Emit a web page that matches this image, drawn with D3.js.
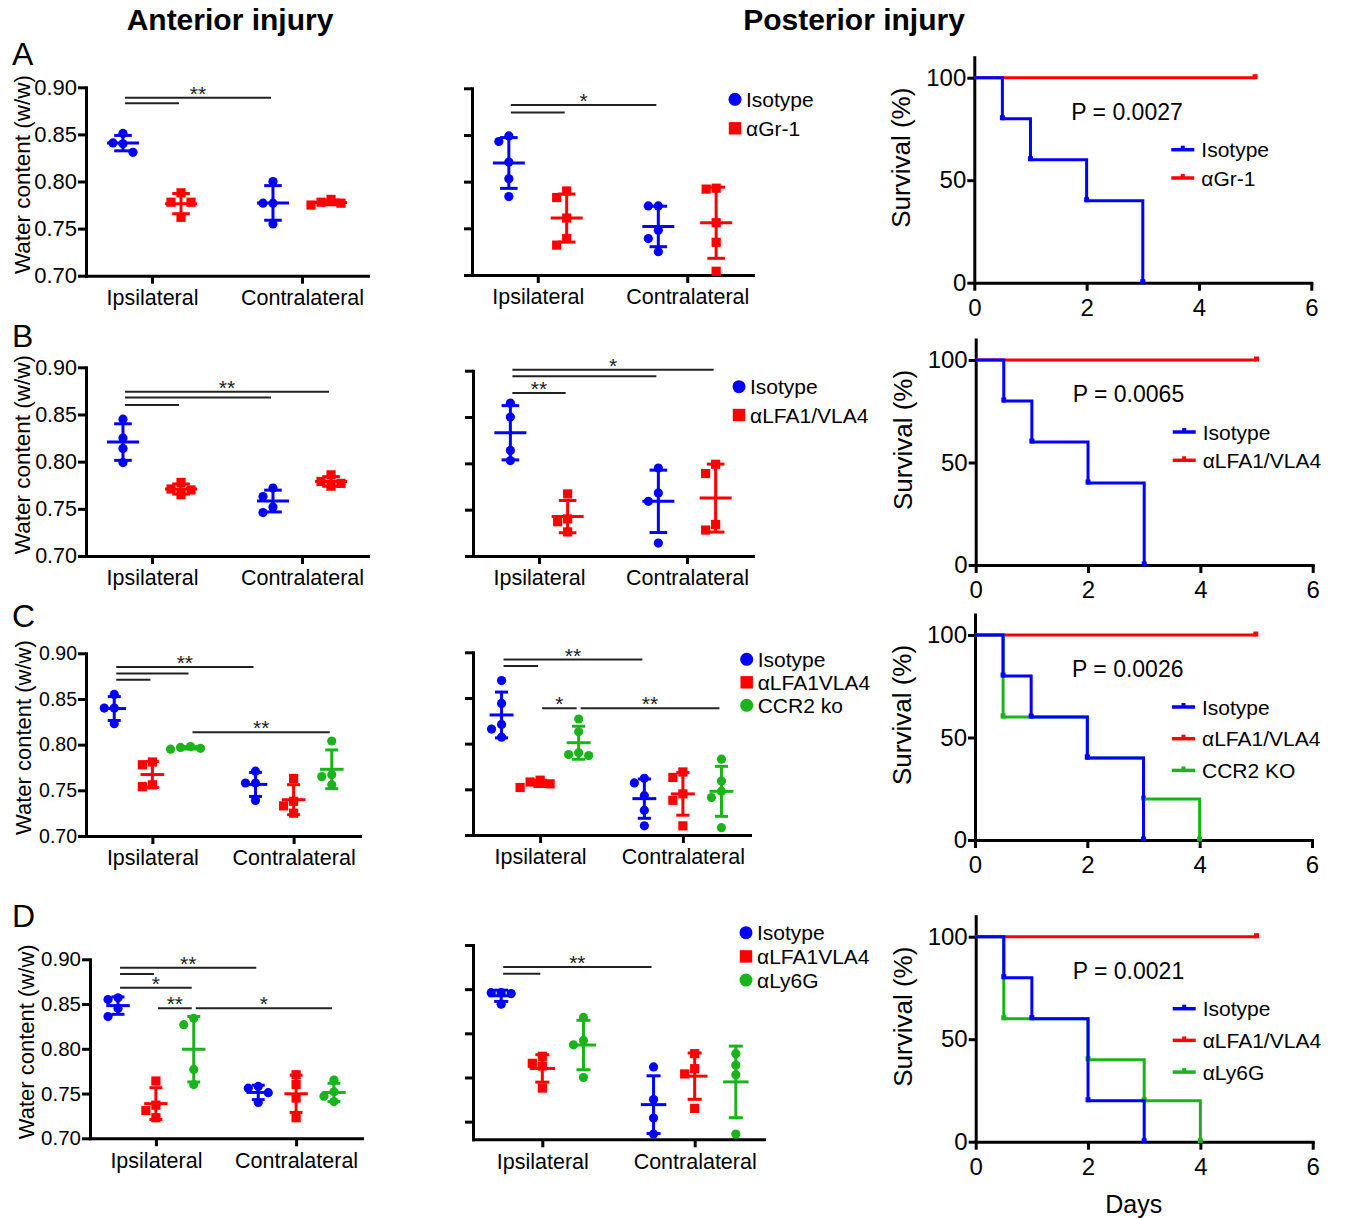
<!DOCTYPE html>
<html>
<head>
<meta charset="utf-8">
<script src="https://cdn.jsdelivr.net/npm/d3@7"></script>
<style>
  html, body { margin: 0; padding: 0; background: #fff; }
  svg { display: block; font-family: "Liberation Sans", Arial, Helvetica, sans-serif; }
</style>
</head>
<body>
<svg id="fig" width="1346" height="1218"></svg>
<script>
// ---- data ----
const groups = ['Ipsilateral', 'Contralateral'];
const waterTicks = [0.70, 0.75, 0.80, 0.85, 0.90];
const survTicksX = [0, 2, 4, 6];
const survTicksY = [0, 50, 100];

// each series: [ipsilateral values, contralateral values]
const antA_Isotype = [[0.851, 0.841, 0.840, 0.831], [0.800, 0.777, 0.777, 0.755]];
const antA_Gr1 = [[0.788, 0.778, 0.778, 0.762], [0.781, 0.778, 0.777, 0.775]];
const postA_Isotype = [[0.849, 0.843, 0.821, 0.803, 0.784], [0.774, 0.774, 0.748, 0.739, 0.725]];
const postA_Gr1 = [[0.790, 0.783, 0.761, 0.739, 0.732], [0.793, 0.792, 0.756, 0.735, 0.704]];

const antB_Isotype = [[0.845, 0.825, 0.814, 0.799], [0.772, 0.763, 0.752, 0.746]];
const antB_LFA = [[0.778, 0.771, 0.770, 0.765], [0.786, 0.779, 0.777, 0.774]];
const postB_Isotype = [[0.865, 0.850, 0.814, 0.803], [0.795, 0.768, 0.759, 0.714]];
const postB_LFA = [[0.767, 0.740, 0.737, 0.726], [0.799, 0.789, 0.734, 0.728]];

const antC_Isotype = [[0.855, 0.840, 0.840, 0.823], [0.771, 0.758, 0.758, 0.739]];
const antC_LFA = [[0.781, 0.778, 0.756, 0.754], [0.763, 0.738, 0.733, 0.725]];
const antC_CCR2 = [[0.798, 0.797, 0.796, 0.795], [0.804, 0.767, 0.765, 0.756]];
const postC_Isotype = [[0.869, 0.844, 0.821, 0.816, 0.807], [0.762, 0.757, 0.743, 0.727, 0.710]];
const postC_LFA = [[0.760, 0.758, 0.756, 0.752], [0.769, 0.763, 0.745, 0.738, 0.710]];
const postC_CCR2 = [[0.827, 0.813, 0.790, 0.788, 0.787], [0.783, 0.759, 0.748, 0.741, 0.708]];

const antD_Isotype = [[0.857, 0.855, 0.845, 0.836], [0.758, 0.756, 0.751, 0.740]];
const antD_LFA = [[0.764, 0.737, 0.731, 0.723], [0.771, 0.760, 0.745, 0.723]];
const antD_Ly6G = [[0.834, 0.827, 0.777, 0.760], [0.765, 0.752, 0.747, 0.741]];
const postD_Isotype = [[0.846, 0.846, 0.845, 0.833], [0.762, 0.725, 0.704, 0.686]];
const postD_LFA = [[0.774, 0.766, 0.763, 0.738], [0.777, 0.760, 0.754, 0.715]];
const postD_Ly6G = [[0.818, 0.792, 0.787, 0.750], [0.777, 0.764, 0.753, 0.686]];

// significance bars: [seriesA, groupA, seriesB, groupB, level, label]
const sigAntA = [[0, 0, 1, 0, 0.883, ''], [0, 0, 0, 1, 0.889, '**']];
const sigPostA = [[0, 0, 1, 0, 0.874, ''], [0, 0, 0, 1, 0.882, '*']];
const sigAntB = [[0, 0, 1, 0, 0.860, ''], [0, 0, 0, 1, 0.868, ''], [0, 0, 1, 1, 0.874, '**']];
const sigPostB = [[0, 0, 1, 0, 0.876, '**'], [0, 0, 0, 1, 0.894, ''], [0, 0, 1, 1, 0.901, '*']];
const sigAntC = [[0, 0, 1, 0, 0.871, ''], [0, 0, 2, 0, 0.878, ''], [0, 0, 0, 1, 0.885, '**'], [2, 0, 2, 1, 0.8135, '**']];
const sigPostC = [[0, 0, 1, 0, 0.885, ''], [0, 0, 0, 1, 0.892, '**'], [1, 0, 2, 0, 0.8387, '*'], [2, 0, 2, 1, 0.8387, '**']];
const sigAntD = [[0, 0, 1, 0, 0.8836, ''], [0, 0, 0, 1, 0.8906, '**'], [0, 0, 2, 0, 0.8683, '*'], [1, 0, 2, 0, 0.8453, '**'], [2, 0, 2, 1, 0.8453, '*']];
const sigPostD = [[0, 0, 1, 0, 0.8675, ''], [0, 0, 0, 1, 0.875, '**']];

// survival curves: [day, percent]
const survA_Isotype = [[0, 100], [0.5, 80], [1, 60], [2, 40], [3, 0]];
const survA_Gr1 = [[0, 100], [5, 100]];
const survB_Isotype = [[0, 100], [0.5, 80], [1, 60], [2, 40], [3, 0]];
const survB_LFA = [[0, 100], [5, 100]];
const survC_Isotype = [[0, 100], [0.5, 80], [1, 60], [2, 40], [3, 0]];
const survC_LFA = [[0, 100], [5, 100]];
const survC_CCR2 = [[0, 100], [0.5, 60], [2, 40], [3, 20], [4, 0]];
const survD_Isotype = [[0, 100], [0.5, 80], [1, 60], [2, 20], [3, 0]];
const survD_LFA = [[0, 100], [5, 100]];
const survD_Ly6G = [[0, 100], [0.5, 60], [2, 40], [3, 20], [4, 0]];
const pValues = ['P = 0.0027', 'P = 0.0065', 'P = 0.0026', 'P = 0.0021'];

// ---- drawing ----
const blue = '#0000ff', red = '#ff0000', green = '#1bb31b';
const svg = d3.select('#fig');

function styleAxis(sel, fontSize) {
  sel.select('.domain').attr('stroke', '#000').attr('stroke-width', 3).attr('stroke-linecap', 'square');
  sel.selectAll('.tick line').attr('stroke', '#000').attr('stroke-width', 3);
  sel.selectAll('.tick text').attr('fill', '#000').style('font-size', fontSize + 'px');
  sel.attr('font-family', null).attr('font-size', null);
}

// simple beeswarm so overlapping points sit side by side
function swarm(vals, y, d) {
  const placed = [];
  const out = new Array(vals.length);
  vals.map((v, i) => i).sort((a, b) => vals[b] - vals[a]).forEach(i => {
    const py = y(vals[i]);
    const cands = [0, -d, d, -2 * d, 2 * d];
    let dx = cands.find(c => placed.every(p => Math.hypot(p[0] - c, p[1] - py) >= d * 0.95));
    if (dx === undefined) dx = 0;
    placed.push([dx, py]);
    out[i] = [dx, py];
  });
  return out;
}

function marker(g, shape, cx, cy, size, color) {
  if (shape === 'square') {
    g.append('rect').attr('x', cx - size).attr('y', cy - size).attr('width', size * 2).attr('height', size * 2).attr('fill', color);
  } else {
    g.append('circle').attr('cx', cx).attr('cy', cy).attr('r', size).attr('fill', color);
  }
}

function scatterPanel(cfg) {
  const g = svg.append('g');
  const x = d3.scalePoint().domain(groups).range([cfg.x0, cfg.x1]).padding(cfg.pad);
  const y = d3.scaleLinear().domain([cfg.yMin, 0.90]).range([cfg.yBot, cfg.yTop]);
  const n = cfg.series.length;
  const off = x.step() * (n === 2 ? 0.387 : 0.27);
  const sx = (s, gi) => x(groups[gi]) + (s - (n - 1) / 2) * off;
  const meanHalf = Math.min(16, off * 0.31);
  const capHalf = meanHalf * 0.55;

  // axes
  g.append('g').attr('transform', `translate(${cfg.x0},0)`)
    .call(d3.axisLeft(y).tickValues(waterTicks).tickSize(8).tickSizeOuter(0).tickPadding(1)
      .tickFormat(cfg.showY ? d3.format('.2f') : ''))
    .call(s => styleAxis(s, cfg.tickFont || 22));
  g.append('g').attr('transform', `translate(0,${cfg.yBot})`)
    .call(d3.axisBottom(x).tickSize(8).tickSizeOuter(0).tickPadding(6))
    .call(s => styleAxis(s, 21.5));

  if (cfg.showY) {
    g.append('text')
      .attr('transform', `translate(${cfg.titleX},${(cfg.yTop + cfg.yBot) / 2 - 7}) rotate(-90)`)
      .attr('text-anchor', 'middle').style('font-size', (cfg.titleFont || 22.5) + 'px')
      .text('Water content (w/w)');
  }

  // points + mean ± SD
  cfg.series.forEach((ser, s) => {
    ser.values.forEach((vals, gi) => {
      const cx = sx(s, gi);
      swarm(vals, y, 10).forEach(([dx, py]) => marker(g, ser.shape, cx + dx, py, 4.6, ser.color));
      const m = d3.mean(vals), sd = d3.deviation(vals);
      const eb = g.append('g').attr('stroke', ser.color).attr('stroke-width', 3);
      eb.append('line').attr('x1', cx).attr('x2', cx).attr('y1', y(m - sd)).attr('y2', y(m + sd));
      eb.append('line').attr('x1', cx - meanHalf).attr('x2', cx + meanHalf).attr('y1', y(m)).attr('y2', y(m));
      [m - sd, m + sd].forEach(v => {
        eb.append('line').attr('x1', cx - capHalf).attr('x2', cx + capHalf).attr('y1', y(v)).attr('y2', y(v));
      });
    });
  });

  // significance bars
  cfg.sig.forEach(([sa, ga, sb, gb, lvl, label]) => {
    const xa = sx(sa, ga) + 2, xb = sx(sb, gb) - 2;
    g.append('line').attr('x1', xa).attr('x2', xb).attr('y1', y(lvl)).attr('y2', y(lvl))
      .attr('stroke', '#222').attr('stroke-width', 2);
    if (label) {
      g.append('text').attr('x', (xa + xb) / 2).attr('y', y(lvl) + 3)
        .attr('text-anchor', 'middle').style('font-size', '21px').attr('fill', '#222').text(label);
    }
  });

  if (cfg.legend) {
    const lg = cfg.legend;
    cfg.series.forEach((ser, s) => {
      const ly = lg.y + s * lg.dy;
      marker(g, ser.shape, lg.x, ly, ser.shape === 'square' ? 6.2 : 6.5, ser.color);
      g.append('text').attr('x', lg.x + 11).attr('y', ly + 7.5).style('font-size', '21px').text(ser.name);
    });
  }
}

function survivalPanel(cfg) {
  const g = svg.append('g');
  const x = d3.scaleLinear().domain([0, 6]).range([cfg.x0, cfg.x0 + 337]);
  const y = d3.scaleLinear().domain([0, 110]).range([cfg.yBot, cfg.yBot - 225.5]);

  g.append('g').attr('transform', `translate(${cfg.x0},0)`)
    .call(d3.axisLeft(y).tickValues(survTicksY).tickSize(7).tickSizeOuter(0).tickPadding(1))
    .call(s => styleAxis(s, 24));
  g.append('g').attr('transform', `translate(0,${cfg.yBot})`)
    .call(d3.axisBottom(x).tickValues(survTicksX).tickFormat(d3.format('d'))
      .tickSize(8).tickSizeOuter(0).tickPadding(8))
    .call(s => styleAxis(s, 24));

  g.append('text')
    .attr('transform', `translate(${cfg.x0 - 64},${cfg.yBot - 125}) rotate(-90)`)
    .attr('text-anchor', 'middle').style('font-size', '26px').text('Survival (%)');

  const line = d3.line().x(d => x(d[0])).y(d => y(d[1])).curve(d3.curveStepAfter);
  // draw back to front: red, green, blue
  const order = cfg.curves.map((c, i) => i).sort((a, b) => cfg.curves[a].z - cfg.curves[b].z);
  order.forEach(i => {
    const c = cfg.curves[i];
    g.append('path').datum(c.data).attr('d', line)
      .attr('fill', 'none').attr('stroke', c.color).attr('stroke-width', 3);
    c.data.slice(1).forEach(d => {
      g.append('rect').attr('x', x(d[0]) - 2.5).attr('y', y(d[1]) - 3.5)
        .attr('width', 5).attr('height', 5).attr('fill', c.color);
    });
  });

  g.append('text').attr('x', cfg.x0 + 97).attr('y', y(100) + 42)
    .style('font-size', '23px').text(cfg.p);

  cfg.curves.forEach((c, i) => {
    const lx = cfg.x0 + 197, ly = y(100) + 72 + i * cfg.legendDy;
    g.append('line').attr('x1', lx).attr('x2', lx + 23).attr('y1', ly).attr('y2', ly)
      .attr('stroke', c.color).attr('stroke-width', 3.5);
    g.append('rect').attr('x', lx + 9.5).attr('y', ly - 4).attr('width', 4).attr('height', 4).attr('fill', c.color);
    g.append('text').attr('x', lx + 30).attr('y', ly + 7.5).style('font-size', '21px').text(c.name);
  });

  if (cfg.xTitle) {
    g.append('text').attr('x', cfg.x0 + 158).attr('y', cfg.yBot + 71)
      .attr('text-anchor', 'middle').style('font-size', '25px').text(cfg.xTitle);
  }
}

// ---- titles ----
svg.append('text').attr('x', 230).attr('y', 30).attr('text-anchor', 'middle')
  .style('font-size', '30px').style('font-weight', 'bold').text('Anterior injury');
svg.append('text').attr('x', 854).attr('y', 30).attr('text-anchor', 'middle')
  .style('font-size', '30px').style('font-weight', 'bold').text('Posterior injury');
[['A', 65], ['B', 346.7], ['C', 626.7], ['D', 926.7]].forEach(([t, yy]) => {
  svg.append('text').attr('x', 12).attr('y', yy).style('font-size', '32px').text(t);
});

const iso = (v) => ({ name: 'Isotype', values: v, color: blue, shape: 'circle' });
const sq = (name, v) => ({ name, values: v, color: red, shape: 'square' });
const gr = (name, v) => ({ name, values: v, color: green, shape: 'circle' });

// row A
scatterPanel({ x0: 86, x1: 368, yTop: 87.3, yBot: 275.7, yMin: 0.70, pad: 0.44, showY: true, titleX: 30,
  tickFont: 22, series: [iso(antA_Isotype), sq('αGr-1', antA_Gr1)], sig: sigAntA });
scatterPanel({ x0: 472, x1: 753, yTop: 88.3, yBot: 275, yMin: 0.70, pad: 0.44,
  series: [iso(postA_Isotype), sq('αGr-1', postA_Gr1)], sig: sigPostA,
  legend: { x: 735, y: 99.3, dy: 29 } });
survivalPanel({ x0: 974.3, yBot: 282.7, p: pValues[0], legendDy: 28.3, curves: [
  { name: 'Isotype', data: survA_Isotype, color: blue, z: 2 },
  { name: 'αGr-1', data: survA_Gr1, color: red, z: 0 }] });

// row B
scatterPanel({ x0: 86, x1: 368, yTop: 367.3, yBot: 556, yMin: 0.70, pad: 0.44, showY: true, titleX: 30,
  tickFont: 21.5, series: [iso(antB_Isotype), sq('αLFA1/VLA4', antB_LFA)], sig: sigAntB });
scatterPanel({ x0: 473, x1: 753, yTop: 370.7, yBot: 556, yMin: 0.70, pad: 0.446,
  series: [iso(postB_Isotype), sq('αLFA1/VLA4', postB_LFA)], sig: sigPostB,
  legend: { x: 739, y: 386.7, dy: 28.3 } });
survivalPanel({ x0: 975.7, yBot: 565, p: pValues[1], legendDy: 28.3, curves: [
  { name: 'Isotype', data: survB_Isotype, color: blue, z: 2 },
  { name: 'αLFA1/VLA4', data: survB_LFA, color: red, z: 0 }] });

// row C
scatterPanel({ x0: 86, x1: 360, yTop: 653.3, yBot: 836, yMin: 0.70, pad: 0.47, showY: true, titleX: 31,
  tickFont: 19.5, titleFont: 22, series: [iso(antC_Isotype), sq('αLFA1VLA4', antC_LFA), gr('CCR2 ko', antC_CCR2)], sig: sigAntC });
scatterPanel({ x0: 473, x1: 750, yTop: 652.3, yBot: 835, yMin: 0.70, pad: 0.47,
  series: [iso(postC_Isotype), sq('αLFA1VLA4', postC_LFA), gr('CCR2 ko', postC_CCR2)], sig: sigPostC,
  legend: { x: 746.7, y: 659.3, dy: 23 } });
survivalPanel({ x0: 975, yBot: 840, p: pValues[2], legendDy: 31.7, curves: [
  { name: 'Isotype', data: survC_Isotype, color: blue, z: 2 },
  { name: 'αLFA1/VLA4', data: survC_LFA, color: red, z: 0 },
  { name: 'CCR2 KO', data: survC_CCR2, color: green, z: 1 }] });

// row D
scatterPanel({ x0: 90, x1: 362, yTop: 959.3, yBot: 1138.3, yMin: 0.70, pad: 0.47, showY: true, titleX: 34,
  tickFont: 20.5, titleFont: 22, series: [iso(antD_Isotype), sq('αLFA1VLA4', antD_LFA), gr('αLy6G', antD_Ly6G)], sig: sigAntD });
scatterPanel({ x0: 473, x1: 764, yTop: 945, yBot: 1139.3, yMin: 0.68, pad: 0.455,
  series: [iso(postD_Isotype), sq('αLFA1VLA4', postD_LFA), gr('αLy6G', postD_Ly6G)], sig: sigPostD,
  legend: { x: 746, y: 932.7, dy: 23.7 } });
survivalPanel({ x0: 975.7, yBot: 1141.7, p: pValues[3], legendDy: 31.7, xTitle: 'Days', curves: [
  { name: 'Isotype', data: survD_Isotype, color: blue, z: 2 },
  { name: 'αLFA1/VLA4', data: survD_LFA, color: red, z: 0 },
  { name: 'αLy6G', data: survD_Ly6G, color: green, z: 1 }] });
</script>
</body>
</html>
